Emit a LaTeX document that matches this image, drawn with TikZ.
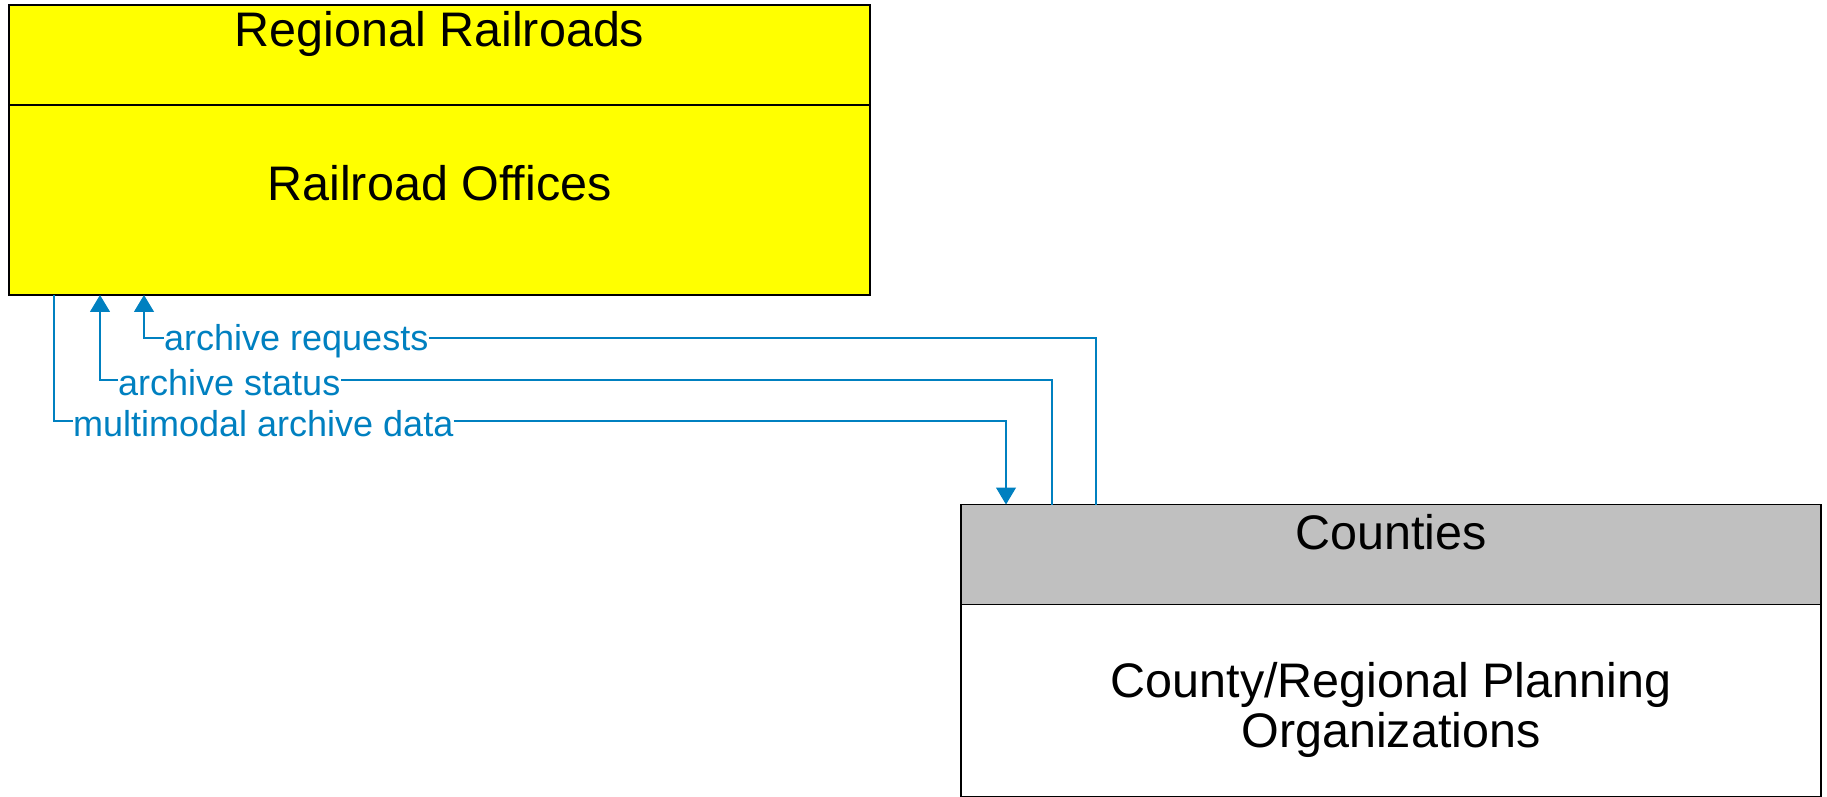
\documentclass[tikz,border=0pt]{standalone}
\usepackage{fontspec}
\setmainfont{Liberation Sans}
\usepackage{tikz}
\usetikzlibrary{positioning,arrows.meta}
\usepackage{xcolor}
\definecolor{flowblue}{RGB}{0,128,192}
\definecolor{railyellow}{RGB}{255,255,0}
\definecolor{headgray}{RGB}{192,192,192}

\begin{document}
\begin{tikzpicture}[x=1pt,y=1pt,
    headbox/.style={draw=black,line width=1.2pt,minimum width=861pt,minimum height=100pt,inner sep=0pt,outer sep=0pt},
    bodybox/.style={draw=black,line width=1.2pt,minimum width=861pt,minimum height=190pt,inner sep=0pt,outer sep=0pt},
    boxtext/.style={font=\fontsize{48.5}{50}\selectfont,align=center,inner sep=0pt},
    flowtext/.style={font=\fontsize{36}{38}\selectfont,text=flowblue,inner sep=0pt,anchor=west},
    flow/.style={draw=flowblue,line width=1.2pt},
    flowarrow/.style={flow,-{Triangle[width=20pt,length=17pt]}}]
        \useasboundingbox (0,0) rectangle (1827,796);
        % railroad side
        \node[headbox,fill=railyellow] (rrhead) at (439.5,741) {};
        \node[bodybox,fill=railyellow,below=0pt of rrhead] (rrbody) {};
        \node[boxtext] (rrtitle) at ([yshift=-29pt]rrhead.north) {Regional Railroads};
        \node[boxtext] (rrname) at ([yshift=-78pt]rrbody.north) {Railroad Offices};
        % county side
        \node[headbox,fill=headgray,minimum width=860pt] (cohead) at (1391,241.5) {};
        \node[bodybox,fill=white,minimum width=860pt,minimum height=192pt,below=0pt of cohead] (cobody) {};
        \node[boxtext] (cotitle) at ([yshift=-28pt]cohead.north) {Counties};
        \node[boxtext] (coname) at ([yshift=-105pt]cobody.north) {County/Regional Planning\\Organizations};
        % flows
        \node[flowtext] (madlabel) at (73,372) {multimodal archive data};
        \node[flowtext] (statuslabel) at (118,413) {archive status};
        \node[flowtext] (reqlabel) at (164,455) {archive requests};
        \draw[flow] ([xshift=45pt]rrbody.south west) |- ([yshift=3pt]madlabel.west);
        \draw[flowarrow] ([yshift=3pt]madlabel.east) -| ([xshift=45pt]cohead.north west);
        \draw[flow] ([xshift=91pt]cohead.north west) |- ([yshift=3pt]statuslabel.east);
        \draw[flowarrow] ([yshift=3pt]statuslabel.west) -| ([xshift=91pt]rrbody.south west);
        \draw[flow] ([xshift=135pt]cohead.north west) |- ([yshift=3pt]reqlabel.east);
        \draw[flowarrow] ([yshift=3pt]reqlabel.west) -| ([xshift=135pt]rrbody.south west);
      \end{tikzpicture}
\end{document}
